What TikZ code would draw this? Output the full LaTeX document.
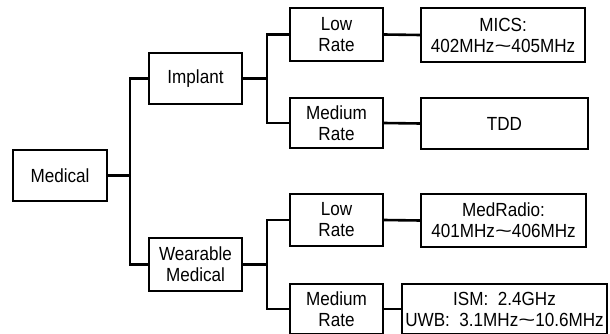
\documentclass[tikz,border=0pt]{standalone}
\usepackage{fontspec}
\setmainfont[FakeStretch=0.9]{Liberation Sans}
\newcommand{\tld}{\scalebox{1.7}[1.0]{\textasciitilde}}
\begin{document}
\begin{tikzpicture}[x=1pt,y=-1pt,
  box/.style={draw=black,line width=1.4pt,fill=white,inner sep=0pt,align=center,
    font=\fontsize{19}{21}\selectfont},
  link/.style={line width=2.6pt,line join=miter,black}]
\useasboundingbox (0,0) rectangle (610,334);
\clip (0,0) rectangle (610,334);
% nodes
\node[box,minimum width=94pt,minimum height=51pt] (med) at (60,175.5) {Medical};
\node[box,minimum width=93pt,minimum height=51pt] (imp) at (195.5,78.5) {Implant};
\node[box,minimum width=93pt,minimum height=53pt] (wear) at (195.5,264.5) {Wearable\\Medical};
\node[box,minimum width=93pt,minimum height=53pt] (lr1) at (336.5,34.5) {Low\\Rate};
\node[box,minimum width=93pt,minimum height=50pt] (mr1) at (336.5,123) {Medium\\Rate};
\node[box,minimum width=164pt,minimum height=54pt] (mics) at (503,35) {MICS:\\402MHz\tld405MHz};
\node[box,minimum width=167pt,minimum height=51pt] (tdd) at (504.5,123.5) {TDD};
\node[box,minimum width=93pt,minimum height=52pt] (lr2) at (336.5,220) {Low\\Rate};
\node[box,minimum width=93pt,minimum height=50pt] (mr2) at (336.5,309) {Medium\\Rate};
\node[box,minimum width=165pt,minimum height=53pt] (medr) at (503.5,220.5) {MedRadio:\\401MHz\tld406MHz};
\node[box,minimum width=205pt,minimum height=50pt] (ism) at (504.5,309) {ISM:\ \ 2.4GHz\\UWB:\ \ 3.1MHz\tld10.6MHz};
% junction coordinates
\coordinate (t1) at (130,175.5);
\coordinate (t2) at (267,78.5);
\coordinate (t3) at (267,264.5);
% connectors
\draw[link] (med.east) -- (t1);
\draw[link] (imp.west) -| (t1) |- (wear.west);
\draw[link] (imp.east) -- (t2);
\draw[link] (lr1.west) -| (t2) |- (mr1.west);
\draw[link] (wear.east) -- (t3);
\draw[link] (lr2.west) -| (t3) |- (mr2.west);
\draw[link] (lr1.east) -- (mics.west);
\draw[link] (mr1.east) -- (tdd.west);
\draw[link] (lr2.east) -- (medr.west);
\draw[link] (mr2.east) -- (ism.west);
\end{tikzpicture}
\end{document}
